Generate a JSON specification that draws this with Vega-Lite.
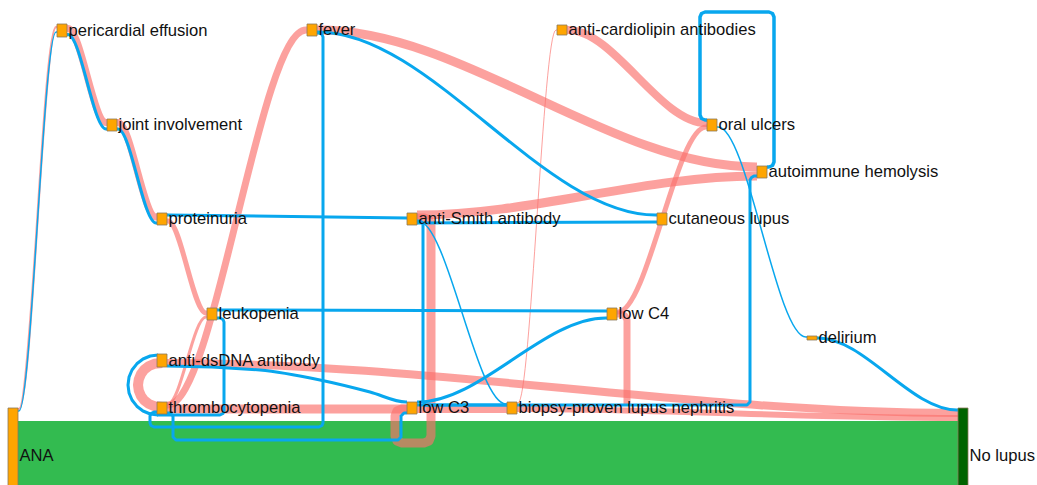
{
"$schema": "https://vega.github.io/schema/vega-lite/v6.json",
"width": 1037, "height": 485, "padding": 0, "autosize": {"type": "none"},
"background": "white",
"config": {"view": {"stroke": null}},
"datasets": {
"bands": [{"source": "ANA", "target": "No lupus", "x0": 18, "x1": 958, "y0": 421, "y1": 504}],
"nodes": [
{"name": "pericardial effusion", "x0": 57, "x1": 67, "y0": 24, "y1": 37, "role": "feature"},
{"name": "joint involvement", "x0": 107, "x1": 117, "y0": 119, "y1": 131, "role": "feature"},
{"name": "proteinuria", "x0": 157, "x1": 167, "y0": 213, "y1": 225, "role": "feature"},
{"name": "leukopenia", "x0": 207, "x1": 217, "y0": 308, "y1": 320, "role": "feature"},
{"name": "anti-dsDNA antibody", "x0": 157, "x1": 167, "y0": 354, "y1": 367, "role": "feature"},
{"name": "thrombocytopenia", "x0": 157, "x1": 167, "y0": 402, "y1": 414, "role": "feature"},
{"name": "fever", "x0": 307, "x1": 317, "y0": 24, "y1": 36, "role": "feature"},
{"name": "anti-Smith antibody", "x0": 407, "x1": 417, "y0": 213, "y1": 225, "role": "feature"},
{"name": "low C3", "x0": 407, "x1": 417, "y0": 402, "y1": 414, "role": "feature"},
{"name": "biopsy-proven lupus nephritis", "x0": 507, "x1": 517, "y0": 402, "y1": 414, "role": "feature"},
{"name": "anti-cardiolipin antibodies", "x0": 557, "x1": 567, "y0": 25, "y1": 35, "role": "feature"},
{"name": "low C4", "x0": 607, "x1": 617, "y0": 308, "y1": 320, "role": "feature"},
{"name": "cutaneous lupus", "x0": 657, "x1": 667, "y0": 213, "y1": 225, "role": "feature"},
{"name": "oral ulcers", "x0": 707, "x1": 717, "y0": 119, "y1": 131, "role": "feature"},
{"name": "autoimmune hemolysis", "x0": 757, "x1": 767, "y0": 166, "y1": 178, "role": "feature"},
{"name": "delirium", "x0": 807, "x1": 817, "y0": 336, "y1": 340, "role": "feature"},
{"name": "ANA", "x0": 8, "x1": 18, "y0": 408, "y1": 504, "role": "feature"},
{"name": "No lupus", "x0": 958, "x1": 968, "y0": 408, "y1": 504, "role": "end"}
],
"links": [
{"id": "p1", "kind": "lupus", "shape": "curve", "value": 2.5, "step": 0, "x": 18, "y": 409},
{"id": "p1", "kind": "lupus", "shape": "curve", "value": 2.5, "step": 1, "x": 19, "y": 409},
{"id": "p1", "kind": "lupus", "shape": "curve", "value": 2.5, "step": 2, "x": 56, "y": 27},
{"id": "p1", "kind": "lupus", "shape": "curve", "value": 2.5, "step": 3, "x": 57, "y": 27},
{"id": "p2", "kind": "lupus", "shape": "curve", "value": 7, "step": 0, "x": 67, "y": 28.5},
{"id": "p2", "kind": "lupus", "shape": "curve", "value": 7, "step": 1, "x": 68, "y": 28.5},
{"id": "p2", "kind": "lupus", "shape": "curve", "value": 7, "step": 2, "x": 106, "y": 122.5},
{"id": "p2", "kind": "lupus", "shape": "curve", "value": 7, "step": 3, "x": 107, "y": 122.5},
{"id": "p3", "kind": "lupus", "shape": "curve", "value": 7, "step": 0, "x": 117, "y": 122.5},
{"id": "p3", "kind": "lupus", "shape": "curve", "value": 7, "step": 1, "x": 118, "y": 122.5},
{"id": "p3", "kind": "lupus", "shape": "curve", "value": 7, "step": 2, "x": 156, "y": 217},
{"id": "p3", "kind": "lupus", "shape": "curve", "value": 7, "step": 3, "x": 157, "y": 217},
{"id": "p4", "kind": "lupus", "shape": "curve", "value": 5, "step": 0, "x": 167, "y": 221},
{"id": "p4", "kind": "lupus", "shape": "curve", "value": 5, "step": 1, "x": 168, "y": 221},
{"id": "p4", "kind": "lupus", "shape": "curve", "value": 5, "step": 2, "x": 206, "y": 313},
{"id": "p4", "kind": "lupus", "shape": "curve", "value": 5, "step": 3, "x": 207, "y": 313},
{"id": "p5", "kind": "lupus", "shape": "curve", "value": 3, "step": 0, "x": 167, "y": 404},
{"id": "p5", "kind": "lupus", "shape": "curve", "value": 3, "step": 1, "x": 168, "y": 404},
{"id": "p5", "kind": "lupus", "shape": "curve", "value": 3, "step": 2, "x": 206, "y": 317},
{"id": "p5", "kind": "lupus", "shape": "curve", "value": 3, "step": 3, "x": 207, "y": 317},
{"id": "p6", "kind": "lupus", "shape": "curve", "value": 7, "step": 0, "x": 167, "y": 405},
{"id": "p6", "kind": "lupus", "shape": "curve", "value": 7, "step": 1, "x": 168, "y": 405},
{"id": "p6", "kind": "lupus", "shape": "curve", "value": 7, "step": 2, "x": 306, "y": 30},
{"id": "p6", "kind": "lupus", "shape": "curve", "value": 7, "step": 3, "x": 307, "y": 30},
{"id": "p7", "kind": "lupus", "shape": "curve", "value": 9, "step": 0, "x": 167, "y": 409},
{"id": "p7", "kind": "lupus", "shape": "curve", "value": 9, "step": 1, "x": 407, "y": 409},
{"id": "p8", "kind": "lupus", "shape": "curve", "value": 8, "step": 0, "x": 417, "y": 409},
{"id": "p8", "kind": "lupus", "shape": "curve", "value": 8, "step": 1, "x": 507, "y": 409},
{"id": "p9", "kind": "lupus", "shape": "curve", "value": 8, "step": 0, "x": 167, "y": 363},
{"id": "p9", "kind": "lupus", "shape": "curve", "value": 8, "step": 1, "x": 168, "y": 363},
{"id": "p9", "kind": "lupus", "shape": "curve", "value": 8, "step": 2, "x": 957, "y": 413},
{"id": "p9", "kind": "lupus", "shape": "curve", "value": 8, "step": 3, "x": 958, "y": 413},
{"id": "p10", "kind": "lupus", "shape": "curve", "value": 6, "step": 0, "x": 517, "y": 409},
{"id": "p10", "kind": "lupus", "shape": "curve", "value": 6, "step": 1, "x": 518, "y": 409},
{"id": "p10", "kind": "lupus", "shape": "curve", "value": 6, "step": 2, "x": 957, "y": 418},
{"id": "p10", "kind": "lupus", "shape": "curve", "value": 6, "step": 3, "x": 958, "y": 418},
{"id": "p11", "kind": "lupus", "shape": "curve", "value": 9, "step": 0, "x": 317, "y": 30},
{"id": "p11", "kind": "lupus", "shape": "curve", "value": 9, "step": 1, "x": 318, "y": 30},
{"id": "p11", "kind": "lupus", "shape": "curve", "value": 9, "step": 2, "x": 756, "y": 167},
{"id": "p11", "kind": "lupus", "shape": "curve", "value": 9, "step": 3, "x": 757, "y": 167},
{"id": "p12", "kind": "lupus", "shape": "curve", "value": 9, "step": 0, "x": 417, "y": 215},
{"id": "p12", "kind": "lupus", "shape": "curve", "value": 9, "step": 1, "x": 418, "y": 215},
{"id": "p12", "kind": "lupus", "shape": "curve", "value": 9, "step": 2, "x": 756, "y": 176},
{"id": "p12", "kind": "lupus", "shape": "curve", "value": 9, "step": 3, "x": 757, "y": 176},
{"id": "p13", "kind": "lupus", "shape": "curve", "value": 1, "step": 0, "x": 517, "y": 403},
{"id": "p13", "kind": "lupus", "shape": "curve", "value": 1, "step": 1, "x": 518, "y": 403},
{"id": "p13", "kind": "lupus", "shape": "curve", "value": 1, "step": 2, "x": 556, "y": 30},
{"id": "p13", "kind": "lupus", "shape": "curve", "value": 1, "step": 3, "x": 557, "y": 30},
{"id": "p14", "kind": "lupus", "shape": "curve", "value": 8, "step": 0, "x": 567, "y": 30},
{"id": "p14", "kind": "lupus", "shape": "curve", "value": 8, "step": 1, "x": 568, "y": 30},
{"id": "p14", "kind": "lupus", "shape": "curve", "value": 8, "step": 2, "x": 706, "y": 123},
{"id": "p14", "kind": "lupus", "shape": "curve", "value": 8, "step": 3, "x": 707, "y": 123},
{"id": "p15", "kind": "lupus", "shape": "curve", "value": 5, "step": 0, "x": 617, "y": 312},
{"id": "p15", "kind": "lupus", "shape": "curve", "value": 5, "step": 1, "x": 618, "y": 312},
{"id": "p15", "kind": "lupus", "shape": "curve", "value": 5, "step": 2, "x": 706, "y": 127},
{"id": "p15", "kind": "lupus", "shape": "curve", "value": 5, "step": 3, "x": 707, "y": 127},
{"id": "pl1", "kind": "lupus", "shape": "loop", "value": 9, "step": 0, "x": 417, "y": 218},
{"id": "pl1", "kind": "lupus", "shape": "loop", "value": 9, "step": 1, "x": 424, "y": 218},
{"id": "pl1", "kind": "lupus", "shape": "loop", "value": 9, "step": 2, "x": 429, "y": 220},
{"id": "pl1", "kind": "lupus", "shape": "loop", "value": 9, "step": 3, "x": 431, "y": 225},
{"id": "pl1", "kind": "lupus", "shape": "loop", "value": 9, "step": 4, "x": 431, "y": 436},
{"id": "pl1", "kind": "lupus", "shape": "loop", "value": 9, "step": 5, "x": 429, "y": 441},
{"id": "pl1", "kind": "lupus", "shape": "loop", "value": 9, "step": 6, "x": 424, "y": 443},
{"id": "pl1", "kind": "lupus", "shape": "loop", "value": 9, "step": 7, "x": 402, "y": 443},
{"id": "pl1", "kind": "lupus", "shape": "loop", "value": 9, "step": 8, "x": 397, "y": 441},
{"id": "pl1", "kind": "lupus", "shape": "loop", "value": 9, "step": 9, "x": 395, "y": 436},
{"id": "pl1", "kind": "lupus", "shape": "loop", "value": 9, "step": 10, "x": 395, "y": 416},
{"id": "pl1", "kind": "lupus", "shape": "loop", "value": 9, "step": 11, "x": 397, "y": 411},
{"id": "pl1", "kind": "lupus", "shape": "loop", "value": 9, "step": 12, "x": 402, "y": 409},
{"id": "pl1", "kind": "lupus", "shape": "loop", "value": 9, "step": 13, "x": 407, "y": 409},
{"id": "pl2", "kind": "lupus", "shape": "loop", "value": 10, "step": 0, "x": 162, "y": 363},
{"id": "pl2", "kind": "lupus", "shape": "loop", "value": 10, "step": 1, "x": 154.3, "y": 363.8},
{"id": "pl2", "kind": "lupus", "shape": "loop", "value": 10, "step": 2, "x": 149, "y": 366},
{"id": "pl2", "kind": "lupus", "shape": "loop", "value": 10, "step": 3, "x": 144.4, "y": 369.4},
{"id": "pl2", "kind": "lupus", "shape": "loop", "value": 10, "step": 4, "x": 141, "y": 374},
{"id": "pl2", "kind": "lupus", "shape": "loop", "value": 10, "step": 5, "x": 138.8, "y": 379.3},
{"id": "pl2", "kind": "lupus", "shape": "loop", "value": 10, "step": 6, "x": 138, "y": 385},
{"id": "pl2", "kind": "lupus", "shape": "loop", "value": 10, "step": 7, "x": 138.8, "y": 390.7},
{"id": "pl2", "kind": "lupus", "shape": "loop", "value": 10, "step": 8, "x": 141, "y": 396},
{"id": "pl2", "kind": "lupus", "shape": "loop", "value": 10, "step": 9, "x": 144.4, "y": 400.6},
{"id": "pl2", "kind": "lupus", "shape": "loop", "value": 10, "step": 10, "x": 149, "y": 404},
{"id": "pl2", "kind": "lupus", "shape": "loop", "value": 10, "step": 11, "x": 154.3, "y": 406.2},
{"id": "pl2", "kind": "lupus", "shape": "loop", "value": 10, "step": 12, "x": 162, "y": 407},
{"id": "pl3", "kind": "lupus", "shape": "loop", "value": 7, "step": 0, "x": 617, "y": 314},
{"id": "pl3", "kind": "lupus", "shape": "loop", "value": 7, "step": 1, "x": 621, "y": 314},
{"id": "pl3", "kind": "lupus", "shape": "loop", "value": 7, "step": 2, "x": 625, "y": 316},
{"id": "pl3", "kind": "lupus", "shape": "loop", "value": 7, "step": 3, "x": 627, "y": 320},
{"id": "pl3", "kind": "lupus", "shape": "loop", "value": 7, "step": 4, "x": 627, "y": 406},
{"id": "b1", "kind": "no lupus", "shape": "curve", "value": 1.5, "step": 0, "x": 18, "y": 411},
{"id": "b1", "kind": "no lupus", "shape": "curve", "value": 1.5, "step": 1, "x": 19, "y": 411},
{"id": "b1", "kind": "no lupus", "shape": "curve", "value": 1.5, "step": 2, "x": 56, "y": 32},
{"id": "b1", "kind": "no lupus", "shape": "curve", "value": 1.5, "step": 3, "x": 57, "y": 32},
{"id": "b2", "kind": "no lupus", "shape": "curve", "value": 3, "step": 0, "x": 67, "y": 34.5},
{"id": "b2", "kind": "no lupus", "shape": "curve", "value": 3, "step": 1, "x": 68, "y": 34.5},
{"id": "b2", "kind": "no lupus", "shape": "curve", "value": 3, "step": 2, "x": 106, "y": 129},
{"id": "b2", "kind": "no lupus", "shape": "curve", "value": 3, "step": 3, "x": 107, "y": 129},
{"id": "b3", "kind": "no lupus", "shape": "curve", "value": 3, "step": 0, "x": 117, "y": 129},
{"id": "b3", "kind": "no lupus", "shape": "curve", "value": 3, "step": 1, "x": 118, "y": 129},
{"id": "b3", "kind": "no lupus", "shape": "curve", "value": 3, "step": 2, "x": 156, "y": 223},
{"id": "b3", "kind": "no lupus", "shape": "curve", "value": 3, "step": 3, "x": 157, "y": 223},
{"id": "b4", "kind": "no lupus", "shape": "curve", "value": 3, "step": 0, "x": 167, "y": 215},
{"id": "b4", "kind": "no lupus", "shape": "curve", "value": 3, "step": 1, "x": 407, "y": 218},
{"id": "b5", "kind": "no lupus", "shape": "curve", "value": 3, "step": 0, "x": 217, "y": 310},
{"id": "b5", "kind": "no lupus", "shape": "curve", "value": 3, "step": 1, "x": 607, "y": 311},
{"id": "b6", "kind": "no lupus", "shape": "curve", "value": 3, "step": 0, "x": 317, "y": 32},
{"id": "b6", "kind": "no lupus", "shape": "curve", "value": 3, "step": 1, "x": 318, "y": 32},
{"id": "b6", "kind": "no lupus", "shape": "curve", "value": 3, "step": 2, "x": 656, "y": 215},
{"id": "b6", "kind": "no lupus", "shape": "curve", "value": 3, "step": 3, "x": 657, "y": 215},
{"id": "b7", "kind": "no lupus", "shape": "curve", "value": 3, "step": 0, "x": 417, "y": 223},
{"id": "b7", "kind": "no lupus", "shape": "curve", "value": 3, "step": 1, "x": 657, "y": 222},
{"id": "b8", "kind": "no lupus", "shape": "curve", "value": 1.5, "step": 0, "x": 417, "y": 221},
{"id": "b8", "kind": "no lupus", "shape": "curve", "value": 1.5, "step": 1, "x": 418, "y": 221},
{"id": "b8", "kind": "no lupus", "shape": "curve", "value": 1.5, "step": 2, "x": 506, "y": 404},
{"id": "b8", "kind": "no lupus", "shape": "curve", "value": 1.5, "step": 3, "x": 507, "y": 404},
{"id": "b9", "kind": "no lupus", "shape": "curve", "value": 3, "step": 0, "x": 167, "y": 366},
{"id": "b9", "kind": "no lupus", "shape": "curve", "value": 3, "step": 1, "x": 168, "y": 366},
{"id": "b9", "kind": "no lupus", "shape": "curve", "value": 3, "step": 2, "x": 260, "y": 370},
{"id": "b9", "kind": "no lupus", "shape": "curve", "value": 3, "step": 3, "x": 320, "y": 380},
{"id": "b9", "kind": "no lupus", "shape": "curve", "value": 3, "step": 4, "x": 370, "y": 392},
{"id": "b9", "kind": "no lupus", "shape": "curve", "value": 3, "step": 5, "x": 406, "y": 402},
{"id": "b9", "kind": "no lupus", "shape": "curve", "value": 3, "step": 6, "x": 407, "y": 402},
{"id": "b10", "kind": "no lupus", "shape": "curve", "value": 3, "step": 0, "x": 417, "y": 402},
{"id": "b10", "kind": "no lupus", "shape": "curve", "value": 3, "step": 1, "x": 418, "y": 402},
{"id": "b10", "kind": "no lupus", "shape": "curve", "value": 3, "step": 2, "x": 606, "y": 318},
{"id": "b10", "kind": "no lupus", "shape": "curve", "value": 3, "step": 3, "x": 607, "y": 318},
{"id": "b11", "kind": "no lupus", "shape": "curve", "value": 3, "step": 0, "x": 417, "y": 405},
{"id": "b11", "kind": "no lupus", "shape": "curve", "value": 3, "step": 1, "x": 507, "y": 405},
{"id": "b12", "kind": "no lupus", "shape": "curve", "value": 1.5, "step": 0, "x": 717, "y": 127},
{"id": "b12", "kind": "no lupus", "shape": "curve", "value": 1.5, "step": 1, "x": 718, "y": 127},
{"id": "b12", "kind": "no lupus", "shape": "curve", "value": 1.5, "step": 2, "x": 806, "y": 337},
{"id": "b12", "kind": "no lupus", "shape": "curve", "value": 1.5, "step": 3, "x": 807, "y": 337},
{"id": "b13", "kind": "no lupus", "shape": "curve", "value": 3, "step": 0, "x": 817, "y": 338},
{"id": "b13", "kind": "no lupus", "shape": "curve", "value": 3, "step": 1, "x": 818, "y": 338},
{"id": "b13", "kind": "no lupus", "shape": "curve", "value": 3, "step": 2, "x": 957, "y": 410},
{"id": "b13", "kind": "no lupus", "shape": "curve", "value": 3, "step": 3, "x": 958, "y": 410},
{"id": "bl1", "kind": "no lupus", "shape": "loop", "value": 3, "step": 0, "x": 317, "y": 33},
{"id": "bl1", "kind": "no lupus", "shape": "loop", "value": 3, "step": 1, "x": 319, "y": 33},
{"id": "bl1", "kind": "no lupus", "shape": "loop", "value": 3, "step": 2, "x": 322, "y": 34.5},
{"id": "bl1", "kind": "no lupus", "shape": "loop", "value": 3, "step": 3, "x": 323, "y": 37},
{"id": "bl1", "kind": "no lupus", "shape": "loop", "value": 3, "step": 4, "x": 323, "y": 423},
{"id": "bl1", "kind": "no lupus", "shape": "loop", "value": 3, "step": 5, "x": 322, "y": 425.5},
{"id": "bl1", "kind": "no lupus", "shape": "loop", "value": 3, "step": 6, "x": 319, "y": 427},
{"id": "bl1", "kind": "no lupus", "shape": "loop", "value": 3, "step": 7, "x": 154, "y": 427},
{"id": "bl1", "kind": "no lupus", "shape": "loop", "value": 3, "step": 8, "x": 151, "y": 425.5},
{"id": "bl1", "kind": "no lupus", "shape": "loop", "value": 3, "step": 9, "x": 150, "y": 423},
{"id": "bl1", "kind": "no lupus", "shape": "loop", "value": 3, "step": 10, "x": 150, "y": 416},
{"id": "bl1", "kind": "no lupus", "shape": "loop", "value": 3, "step": 11, "x": 151, "y": 413.5},
{"id": "bl1", "kind": "no lupus", "shape": "loop", "value": 3, "step": 12, "x": 154, "y": 412},
{"id": "bl1", "kind": "no lupus", "shape": "loop", "value": 3, "step": 13, "x": 157, "y": 412},
{"id": "bl2", "kind": "no lupus", "shape": "loop", "value": 3, "step": 0, "x": 217, "y": 318},
{"id": "bl2", "kind": "no lupus", "shape": "loop", "value": 3, "step": 1, "x": 220, "y": 318},
{"id": "bl2", "kind": "no lupus", "shape": "loop", "value": 3, "step": 2, "x": 223, "y": 319.5},
{"id": "bl2", "kind": "no lupus", "shape": "loop", "value": 3, "step": 3, "x": 224, "y": 322},
{"id": "bl2", "kind": "no lupus", "shape": "loop", "value": 3, "step": 4, "x": 224, "y": 411},
{"id": "bl2", "kind": "no lupus", "shape": "loop", "value": 3, "step": 5, "x": 223, "y": 413.5},
{"id": "bl2", "kind": "no lupus", "shape": "loop", "value": 3, "step": 6, "x": 220, "y": 415},
{"id": "bl2", "kind": "no lupus", "shape": "loop", "value": 3, "step": 7, "x": 157, "y": 415},
{"id": "bl3", "kind": "no lupus", "shape": "loop", "value": 3, "step": 0, "x": 167, "y": 413},
{"id": "bl3", "kind": "no lupus", "shape": "loop", "value": 3, "step": 1, "x": 170, "y": 413},
{"id": "bl3", "kind": "no lupus", "shape": "loop", "value": 3, "step": 2, "x": 173, "y": 416},
{"id": "bl3", "kind": "no lupus", "shape": "loop", "value": 3, "step": 3, "x": 173, "y": 437},
{"id": "bl3", "kind": "no lupus", "shape": "loop", "value": 3, "step": 4, "x": 176, "y": 440},
{"id": "bl3", "kind": "no lupus", "shape": "loop", "value": 3, "step": 5, "x": 398, "y": 440},
{"id": "bl3", "kind": "no lupus", "shape": "loop", "value": 3, "step": 6, "x": 401, "y": 437},
{"id": "bl3", "kind": "no lupus", "shape": "loop", "value": 3, "step": 7, "x": 401, "y": 416},
{"id": "bl3", "kind": "no lupus", "shape": "loop", "value": 3, "step": 8, "x": 404, "y": 413},
{"id": "bl3", "kind": "no lupus", "shape": "loop", "value": 3, "step": 9, "x": 407, "y": 413},
{"id": "bl4", "kind": "no lupus", "shape": "loop", "value": 3, "step": 0, "x": 417, "y": 221},
{"id": "bl4", "kind": "no lupus", "shape": "loop", "value": 3, "step": 1, "x": 420, "y": 221},
{"id": "bl4", "kind": "no lupus", "shape": "loop", "value": 3, "step": 2, "x": 422.5, "y": 222.5},
{"id": "bl4", "kind": "no lupus", "shape": "loop", "value": 3, "step": 3, "x": 423, "y": 225},
{"id": "bl4", "kind": "no lupus", "shape": "loop", "value": 3, "step": 4, "x": 423, "y": 402},
{"id": "bl4", "kind": "no lupus", "shape": "loop", "value": 3, "step": 5, "x": 426, "y": 405},
{"id": "bl4", "kind": "no lupus", "shape": "loop", "value": 3, "step": 6, "x": 507, "y": 405},
{"id": "bl5", "kind": "no lupus", "shape": "loop", "value": 3.5, "step": 0, "x": 767, "y": 167},
{"id": "bl5", "kind": "no lupus", "shape": "loop", "value": 3.5, "step": 1, "x": 769, "y": 167},
{"id": "bl5", "kind": "no lupus", "shape": "loop", "value": 3.5, "step": 2, "x": 772.5, "y": 165.5},
{"id": "bl5", "kind": "no lupus", "shape": "loop", "value": 3.5, "step": 3, "x": 774, "y": 162},
{"id": "bl5", "kind": "no lupus", "shape": "loop", "value": 3.5, "step": 4, "x": 774, "y": 17},
{"id": "bl5", "kind": "no lupus", "shape": "loop", "value": 3.5, "step": 5, "x": 772.5, "y": 13.5},
{"id": "bl5", "kind": "no lupus", "shape": "loop", "value": 3.5, "step": 6, "x": 769, "y": 12},
{"id": "bl5", "kind": "no lupus", "shape": "loop", "value": 3.5, "step": 7, "x": 705, "y": 12},
{"id": "bl5", "kind": "no lupus", "shape": "loop", "value": 3.5, "step": 8, "x": 701.5, "y": 13.5},
{"id": "bl5", "kind": "no lupus", "shape": "loop", "value": 3.5, "step": 9, "x": 700, "y": 17},
{"id": "bl5", "kind": "no lupus", "shape": "loop", "value": 3.5, "step": 10, "x": 700, "y": 115},
{"id": "bl5", "kind": "no lupus", "shape": "loop", "value": 3.5, "step": 11, "x": 701.5, "y": 118.5},
{"id": "bl5", "kind": "no lupus", "shape": "loop", "value": 3.5, "step": 12, "x": 705, "y": 120},
{"id": "bl5", "kind": "no lupus", "shape": "loop", "value": 3.5, "step": 13, "x": 707, "y": 120},
{"id": "bl6", "kind": "no lupus", "shape": "loop", "value": 3, "step": 0, "x": 517, "y": 405},
{"id": "bl6", "kind": "no lupus", "shape": "loop", "value": 3, "step": 1, "x": 747, "y": 405},
{"id": "bl6", "kind": "no lupus", "shape": "loop", "value": 3, "step": 2, "x": 750, "y": 402},
{"id": "bl6", "kind": "no lupus", "shape": "loop", "value": 3, "step": 3, "x": 750, "y": 180},
{"id": "bl6", "kind": "no lupus", "shape": "loop", "value": 3, "step": 4, "x": 751.5, "y": 177.5},
{"id": "bl6", "kind": "no lupus", "shape": "loop", "value": 3, "step": 5, "x": 754, "y": 176},
{"id": "bl6", "kind": "no lupus", "shape": "loop", "value": 3, "step": 6, "x": 757, "y": 176},
{"id": "bl7", "kind": "no lupus", "shape": "loop", "value": 3, "step": 0, "x": 158, "y": 355},
{"id": "bl7", "kind": "no lupus", "shape": "loop", "value": 3, "step": 1, "x": 150.2, "y": 356},
{"id": "bl7", "kind": "no lupus", "shape": "loop", "value": 3, "step": 2, "x": 143, "y": 359},
{"id": "bl7", "kind": "no lupus", "shape": "loop", "value": 3, "step": 3, "x": 136.8, "y": 363.8},
{"id": "bl7", "kind": "no lupus", "shape": "loop", "value": 3, "step": 4, "x": 132, "y": 370},
{"id": "bl7", "kind": "no lupus", "shape": "loop", "value": 3, "step": 5, "x": 129, "y": 377.2},
{"id": "bl7", "kind": "no lupus", "shape": "loop", "value": 3, "step": 6, "x": 128, "y": 385},
{"id": "bl7", "kind": "no lupus", "shape": "loop", "value": 3, "step": 7, "x": 129, "y": 392.8},
{"id": "bl7", "kind": "no lupus", "shape": "loop", "value": 3, "step": 8, "x": 132, "y": 400},
{"id": "bl7", "kind": "no lupus", "shape": "loop", "value": 3, "step": 9, "x": 136.8, "y": 406.2},
{"id": "bl7", "kind": "no lupus", "shape": "loop", "value": 3, "step": 10, "x": 143, "y": 411},
{"id": "bl7", "kind": "no lupus", "shape": "loop", "value": 3, "step": 11, "x": 150.2, "y": 414},
{"id": "bl7", "kind": "no lupus", "shape": "loop", "value": 3, "step": 12, "x": 158, "y": 415}
]
},
"layer": [
{
"data": {"name": "bands"},
"mark": {"type": "rect", "color": "#33BB50"},
"encoding": {
"x": {"field": "x0", "type": "quantitative", "scale": {"domain": [0, 1037], "nice": false, "zero": false}, "axis": null},
"x2": {"field": "x1"},
"y": {"field": "y0", "type": "quantitative", "scale": {"domain": [0, 485], "nice": false, "zero": false, "reverse": true}, "axis": null},
"y2": {"field": "y1"}
}
},
{
"data": {"name": "links"},
"transform": [{"filter": "datum.kind === 'lupus' && datum.shape === 'curve'"}],
"mark": {"type": "line", "interpolate": "monotone"},
"encoding": {
"x": {"field": "x", "type": "quantitative", "axis": null},
"y": {"field": "y", "type": "quantitative", "axis": null},
"detail": {"field": "id"},
"stroke": {"field": "kind", "type": "nominal", "scale": {"domain": ["lupus", "no lupus"], "range": ["rgba(250,112,108,0.66)", "#08A7EE"]}, "legend": null},
"strokeWidth": {"field": "value", "type": "quantitative", "scale": {"domain": [0, 10], "range": [0, 10]}, "legend": null}
}
},
{
"data": {"name": "links"},
"transform": [{"filter": "datum.kind === 'lupus' && datum.shape === 'loop'"}],
"mark": {"type": "line", "interpolate": "linear", "strokeJoin": "round"},
"encoding": {
"x": {"field": "x", "type": "quantitative", "axis": null},
"y": {"field": "y", "type": "quantitative", "axis": null},
"detail": {"field": "id"},
"order": {"field": "step", "type": "quantitative"},
"stroke": {"field": "kind", "type": "nominal", "legend": null},
"strokeWidth": {"field": "value", "type": "quantitative", "legend": null}
}
},
{
"data": {"name": "links"},
"transform": [{"filter": "datum.kind === 'no lupus' && datum.shape === 'curve'"}],
"mark": {"type": "line", "interpolate": "monotone"},
"encoding": {
"x": {"field": "x", "type": "quantitative", "axis": null},
"y": {"field": "y", "type": "quantitative", "axis": null},
"detail": {"field": "id"},
"stroke": {"field": "kind", "type": "nominal", "legend": null},
"strokeWidth": {"field": "value", "type": "quantitative", "legend": null}
}
},
{
"data": {"name": "links"},
"transform": [{"filter": "datum.kind === 'no lupus' && datum.shape === 'loop'"}],
"mark": {"type": "line", "interpolate": "linear", "strokeJoin": "round"},
"encoding": {
"x": {"field": "x", "type": "quantitative", "axis": null},
"y": {"field": "y", "type": "quantitative", "axis": null},
"detail": {"field": "id"},
"order": {"field": "step", "type": "quantitative"},
"stroke": {"field": "kind", "type": "nominal", "legend": null},
"strokeWidth": {"field": "value", "type": "quantitative", "legend": null}
}
},
{
"data": {"name": "nodes"},
"mark": {"type": "rect", "stroke": "#8c7a5a", "strokeWidth": 0.8},
"encoding": {
"x": {"field": "x0", "type": "quantitative", "axis": null},
"x2": {"field": "x1"},
"y": {"field": "y0", "type": "quantitative", "axis": null},
"y2": {"field": "y1"},
"fill": {"field": "role", "type": "nominal", "scale": {"domain": ["feature", "end"], "range": ["#FFA500", "#006400"]}, "legend": null}
}
},
{
"data": {"name": "nodes"},
"transform": [{"calculate": "(datum.y0 + datum.y1) / 2", "as": "yc"}],
"mark": {"type": "text", "align": "left", "baseline": "middle", "dx": 1.5, "font": "Liberation Sans", "fontSize": 16.6, "color": "#111111"},
"encoding": {
"x": {"field": "x1", "type": "quantitative", "axis": null},
"y": {"field": "yc", "type": "quantitative", "axis": null},
"text": {"field": "name"}
}
}
]
}
